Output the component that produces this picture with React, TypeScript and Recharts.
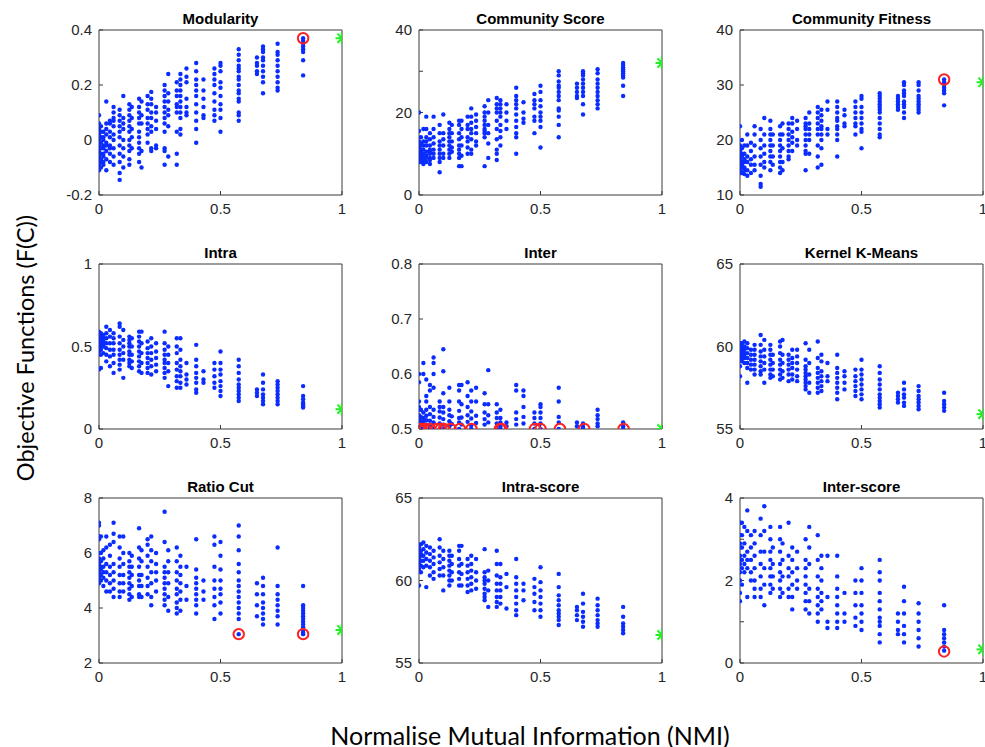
import React from 'react';
import { ScatterChart, Scatter, XAxis, YAxis } from 'recharts';

// NMI value of every column of partitions (shared by all panels)
const nmi = [0, 0.008, 0.018, 0.03, 0.045, 0.06, 0.085, 0.1, 0.125, 0.135, 0.165, 0.175, 0.2, 0.215, 0.235, 0.27, 0.285, 0.32, 0.335, 0.36, 0.4, 0.43, 0.475, 0.5, 0.575, 0.65, 0.675, 0.735, 0.84];

const modularity = [
  [0.09, 0.06, 0.04, 0.02, 0.01, 0, -0.01, -0.02, -0.03, -0.04, -0.05, -0.06, -0.07, -0.08, -0.09, -0.1, -0.11],
  [0.05, 0.03, 0.01, -0.01, -0.03, -0.05, -0.07, -0.08, -0.1],
  [0.03, 0.01, 0, -0.02, -0.03, -0.05, -0.06, -0.08, -0.09],
  [0.14, 0.06, 0.04, 0.02, -0.01, -0.02, -0.04, -0.07, -0.11],
  [0.07, 0.06, 0.03, 0.01, -0.02, -0.03, -0.05, -0.08],
  [0.12, 0.1, 0.08, 0.07, 0.05, 0.02, 0, -0.03, -0.06, -0.09],
  [0.11, 0.09, 0.07, 0.05, 0.03, 0.01, -0.02, -0.05, -0.08, -0.12, -0.145],
  [0.16, 0.08, 0.06, 0.04, 0, -0.03, -0.06, -0.1],
  [0.13, 0.11, 0.09, 0.07, 0.05, 0.03, 0, -0.02, -0.04, -0.07, -0.09],
  [0.12, 0.08, 0.04, 0.01, -0.03],
  [0.15, 0.12, 0.1, 0.08, 0.06, 0.03, 0.01, -0.01, -0.03, -0.05, -0.08],
  [0.14, 0.09, 0.06, -0.04, -0.1],
  [0.16, 0.13, 0.11, 0.08, 0.06, 0.04, 0.02, -0.01],
  [0.175, 0.15, 0.13, 0.1, 0.08, 0.05, 0.03, -0.03, -0.04],
  [0.12, 0.1, 0.07, 0.04, -0.02, -0.03],
  [0.2, 0.18, 0.16, 0.14, 0.12, 0.1, 0.08, 0.06, 0.03, -0.03, -0.04, -0.09],
  [0.24, 0.17, 0.14, 0.11, 0.09, 0.05, -0.06],
  [0.21, 0.18, 0.16, 0.13, 0.12, 0.1, 0.03, -0.05, -0.09],
  [0.24, 0.22, 0.2, 0.18, 0.16, 0.14, 0.12, 0.1, 0.08, 0.04, 0.02],
  [0.26, 0.23, 0.21, 0.15, 0.12, 0.1, 0.09],
  [0.28, 0.25, 0.22, 0.2, 0.18, 0.16, 0.13, 0.1, 0.07, 0.04, -0.01],
  [0.22, 0.18, 0.15, 0.12, 0.09, 0.08],
  [0.26, 0.24, 0.22, 0.2, 0.17, 0.14, 0.11, 0.09, 0.07],
  [0.28, 0.27, 0.25, 0.21, 0.19, 0.16, 0.13, 0.11, 0.08, 0.03],
  [0.33, 0.31, 0.29, 0.27, 0.26, 0.25, 0.23, 0.22, 0.2, 0.18, 0.17, 0.15, 0.14, 0.1, 0.09, 0.07],
  [0.3, 0.28, 0.27, 0.25, 0.24],
  [0.34, 0.33, 0.32, 0.3, 0.29, 0.27, 0.25, 0.23, 0.21, 0.17],
  [0.35, 0.32, 0.31, 0.29, 0.27, 0.25, 0.23, 0.21, 0.19, 0.18],
  [0.37, 0.36, 0.35, 0.34, 0.33, 0.32, 0.29, 0.235],
];

const communityScore = [
  [20, 15.5, 13, 12.5, 12, 11.5, 11, 10.5, 10, 9.5, 9, 8.5, 8],
  [14, 12.5, 12, 11, 10.5, 10, 9.5, 9, 8],
  [16, 13, 12, 11, 10, 9, 8.5, 7.5],
  [19, 16, 14, 13, 12, 10.5, 9.5, 9, 8],
  [15, 13.5, 12, 11, 10.5, 10, 9, 8.5, 7.5],
  [19, 16, 14, 12.5, 11, 10, 9],
  [17, 15, 13, 12, 11, 10, 9, 8, 5.5],
  [19.5, 15, 13.5, 12, 10, 9],
  [17.5, 16, 15, 14, 13, 12, 11, 10, 9],
  [17, 15, 13, 11.5, 10.5],
  [18, 17, 15, 13.5, 12, 11, 10, 9, 7],
  [18, 16, 14, 12, 9.5, 7],
  [19, 17, 16, 14, 13, 11.5, 10],
  [21, 19, 17.5, 16, 15, 13.5, 11, 10],
  [19.5, 18, 16.5, 15, 13, 12],
  [21.5, 20, 19, 18, 17, 16, 15.5, 15, 14, 7],
  [23, 20, 17, 15, 12.5, 9],
  [23.5, 22, 21, 20, 18, 16, 13.5, 11, 10, 8.5],
  [23, 22, 21, 20, 19, 17, 15.5, 14, 12],
  [22, 20, 18, 16],
  [26, 24, 23, 22, 21, 19.5, 18, 16.5, 15, 14, 10],
  [22.5, 20, 18.5, 17.5],
  [24.5, 23, 22, 21, 19, 18, 15],
  [26.5, 25, 23, 21.5, 20, 19, 18, 16.5, 11.5],
  [30, 29, 27.5, 26.5, 26, 25, 24, 23, 21, 20.5, 19, 17, 14],
  [27, 26, 25, 24, 23.5],
  [30, 29.5, 29, 28, 27, 26, 25, 24, 22, 19.5],
  [30.5, 29.5, 28, 27, 26, 25, 24, 23, 22, 21],
  [32, 31.5, 31, 30.5, 30, 29.5, 29, 28.5, 26.5, 24],
];

const communityFitness = [
  [22.5, 19, 18, 17, 16.5, 16, 15.5, 15, 14.5, 14],
  [20, 18.5, 17.5, 17, 16, 15.5, 15, 14],
  [19, 17.5, 16.5, 16, 15, 14.5, 13.8],
  [21, 19, 17, 16, 14.5, 13.5],
  [19.5, 18, 16.5, 15.5, 14],
  [22.5, 21, 19, 17, 15.5, 14.5],
  [22, 20, 18.5, 17, 15.5, 13.5, 12, 11.5],
  [24, 21, 19, 17.5, 16, 15],
  [23.5, 22, 21, 20, 19, 18, 17, 16, 14.5],
  [21, 19, 17, 15.5],
  [22.5, 21, 20, 19, 18, 17, 16, 15, 14],
  [23, 21, 18.5, 16, 14.5],
  [23, 22, 21, 20, 19, 18, 17, 16.5],
  [24, 23, 21.5, 20.5, 19.5, 18],
  [23.5, 22, 20, 19],
  [24, 23, 22.5, 22, 21, 20, 19, 18, 17.5, 14.5],
  [25, 23, 22, 21, 20, 17.5],
  [26, 25, 24, 23, 22, 21, 19, 17, 15],
  [25.5, 24.5, 23.5, 22.5, 22, 21, 20, 18.5, 15.5],
  [27, 25.5, 22, 21],
  [27, 26, 25, 24, 23.5, 22.5, 22, 21, 20, 17],
  [25.5, 24.5, 23, 22.5],
  [27, 26, 25, 24, 23, 22.5, 21],
  [28, 27.5, 26, 25, 24, 23, 22, 21.5, 18.5],
  [28.5, 28, 27.5, 27, 26.5, 26, 25.5, 25, 24, 23, 22, 21, 20.5],
  [28, 27.5, 27, 26.5, 26, 25.5],
  [30.5, 30, 29, 28.5, 28, 27, 26.5, 26, 25, 24],
  [30.5, 30, 29, 28, 27.5, 27, 26.5, 26, 25.5, 25],
  [31, 30.5, 30, 29.5, 29, 28.5, 26.3],
];

const intra = [
  [0.59, 0.57, 0.56, 0.55, 0.54, 0.53, 0.52, 0.51, 0.5, 0.49, 0.47, 0.36],
  [0.58, 0.57, 0.56, 0.55, 0.54, 0.52, 0.5, 0.48, 0.45, 0.37],
  [0.57, 0.55, 0.53, 0.51, 0.5, 0.46],
  [0.62, 0.58, 0.55, 0.52, 0.49, 0.45, 0.41],
  [0.6, 0.56, 0.52, 0.48, 0.44, 0.38],
  [0.58, 0.55, 0.52, 0.48, 0.45, 0.4, 0.34],
  [0.64, 0.62, 0.56, 0.52, 0.48, 0.45, 0.42, 0.39, 0.36],
  [0.6, 0.54, 0.5, 0.46, 0.42, 0.31],
  [0.56, 0.54, 0.52, 0.5, 0.47, 0.45, 0.42, 0.4, 0.38],
  [0.55, 0.5, 0.45, 0.41, 0.37],
  [0.59, 0.56, 0.53, 0.5, 0.47, 0.44, 0.41, 0.38, 0.35],
  [0.59, 0.52, 0.46, 0.4, 0.34],
  [0.53, 0.49, 0.46, 0.43, 0.4, 0.37, 0.34],
  [0.55, 0.5, 0.46, 0.42, 0.38, 0.33],
  [0.52, 0.47, 0.43, 0.39, 0.35],
  [0.59, 0.52, 0.48, 0.45, 0.42, 0.4, 0.37, 0.34, 0.31],
  [0.5, 0.45, 0.4, 0.35, 0.26],
  [0.55, 0.5, 0.46, 0.4, 0.36, 0.32, 0.29, 0.25],
  [0.55, 0.48, 0.42, 0.38, 0.35, 0.32, 0.28, 0.25],
  [0.4, 0.33, 0.3, 0.27],
  [0.51, 0.42, 0.38, 0.34, 0.31, 0.28, 0.24, 0.22],
  [0.35, 0.3, 0.28],
  [0.4, 0.36, 0.32, 0.28, 0.25],
  [0.47, 0.4, 0.36, 0.33, 0.29, 0.26, 0.23, 0.2],
  [0.42, 0.38, 0.34, 0.3, 0.27, 0.25, 0.23, 0.21, 0.19, 0.17],
  [0.24, 0.22, 0.2],
  [0.33, 0.28, 0.24, 0.21, 0.19, 0.17, 0.15],
  [0.29, 0.27, 0.25, 0.23, 0.21, 0.19, 0.17, 0.15],
  [0.26, 0.2, 0.18, 0.16, 0.15, 0.14, 0.13],
];

const inter = [
  [0.6, 0.585, 0.55, 0.54, 0.535, 0.525, 0.518, 0.512, 0.506, 0.5],
  [0.535, 0.522, 0.514, 0.507, 0.5],
  [0.62, 0.6, 0.53, 0.52, 0.513, 0.5],
  [0.59, 0.56, 0.55, 0.535, 0.524, 0.516, 0.508],
  [0.58, 0.57, 0.54, 0.527, 0.515, 0.505, 0.5],
  [0.63, 0.62, 0.6, 0.575, 0.535, 0.522, 0.512, 0.5],
  [0.55, 0.54, 0.532, 0.521, 0.51, 0.5],
  [0.645, 0.605, 0.565, 0.54, 0.53, 0.518, 0.508, 0.5],
  [0.575, 0.55, 0.535, 0.525, 0.514, 0.505],
  [0.523, 0.509],
  [0.58, 0.57, 0.55, 0.533, 0.52, 0.512, 0.5],
  [0.58, 0.545, 0.521, 0.508],
  [0.585, 0.56, 0.54, 0.525, 0.513],
  [0.57, 0.55, 0.532, 0.519, 0.506, 0.5],
  [0.575, 0.55, 0.524, 0.511],
  [0.565, 0.545, 0.53, 0.518, 0.508],
  [0.607, 0.545, 0.525, 0.512],
  [0.545, 0.53, 0.52, 0.51, 0.5],
  [0.535, 0.52, 0.512, 0.505, 0.5],
  [0.512, 0.505],
  [0.58, 0.57, 0.53, 0.518, 0.508],
  [0.57, 0.56, 0.54, 0.522, 0.51],
  [0.53, 0.52, 0.51, 0.5],
  [0.545, 0.54, 0.53, 0.52, 0.51, 0.5],
  [0.575, 0.55, 0.522, 0.512, 0.5],
  [0.512, 0.505],
  [0.51, 0.504, 0.5],
  [0.535, 0.525, 0.518, 0.51, 0.505],
  [0.512, 0.505, 0.5],
];

const kernelKMeans = [
  [60.2, 60.1, 60, 59.9, 59.8, 59.6, 59.5, 59.4, 59.3, 58.8, 58.2],
  [60.2, 60, 59.9, 59.7, 59.5, 59.3, 59.1],
  [60.3, 60, 59.8, 59.6, 59.5, 59.3, 59],
  [60.2, 59.9, 59.6, 59.3, 59, 58.7, 57.8],
  [59.8, 59.5, 59.2, 58.9, 58.6],
  [60.1, 59.8, 59.5, 59.2, 58.9, 58.6, 58.3],
  [60.7, 60.1, 59.7, 59.4, 59.1, 58.8, 58.5, 58.3],
  [60.4, 59.8, 59.4, 59, 58.6, 57.8],
  [60.1, 59.8, 59.5, 59.2, 58.9, 58.6, 58.3, 58.1],
  [59.5, 59, 58.6, 58.2],
  [60.3, 60, 59.6, 59.2, 58.9, 58.6, 58.3, 58],
  [60.4, 59.5, 59, 58.5, 58.1],
  [59.5, 59.2, 58.9, 58.6, 58.3, 57.9],
  [59.8, 59.3, 59, 58.7, 58.3, 58],
  [59.8, 59.4, 59, 58.6, 58.2, 57.9],
  [60.2, 59.2, 58.8, 58.6, 58.4, 58.2, 58, 57.8, 57.6, 57.4],
  [59.8, 59, 58.3, 57.8, 57.2],
  [60.3, 59.3, 58.7, 58.4, 58.1, 57.8, 57.5, 57.2],
  [59.5, 59.1, 58.5, 58.2, 57.9, 57.6, 57.3],
  [59, 58.2, 57.9],
  [59.5, 58.7, 58.4, 58.1, 57.8, 57.5, 57.2, 56.8],
  [58.5, 58.2, 57.8, 57.4],
  [58.6, 58.2, 57.9, 57.6, 57.3, 57],
  [59.2, 58.6, 58.3, 58, 57.7, 57.4, 57.1, 56.8],
  [58.8, 58.4, 58, 57.7, 57.4, 57.1, 56.9, 56.7, 56.5, 56.3],
  [57.2, 57, 56.8, 56.6],
  [57.8, 57.4, 57.1, 56.9, 56.6, 56.4],
  [57.6, 57.3, 57, 56.8, 56.6, 56.4, 56.2],
  [57.2, 56.7, 56.5, 56.3, 56.1],
];

const ratioCut = [
  [7.1, 7.0, 6.6, 6.5, 6, 5.8, 5.7, 5.6, 5.5, 5.4, 5.3, 5.2, 5.1, 4.9],
  [6.6, 6, 5.7, 5.5, 5.4, 5.2, 5],
  [6.1, 5.8, 5.5, 5.3, 5.1, 4.8],
  [6.6, 6.2, 5.6, 5.3, 5, 4.6],
  [6.3, 5.9, 5.5, 5.2, 4.9, 4.6],
  [7.1, 6.7, 6.4, 5.6, 5.3, 5, 4.7, 4.4],
  [6.6, 6.2, 5.8, 5.5, 5.2, 4.9, 4.6, 4.4],
  [6.6, 6, 5.6, 5.2, 4.9, 4.6],
  [6, 5.7, 5.5, 5.3, 5.1, 4.9, 4.7, 4.5, 4.3],
  [5.9, 5.5, 5.2, 4.8, 4.4],
  [6.9, 6.2, 5.8, 5.5, 5.2, 5, 4.8, 4.5, 4.4],
  [6.1, 5.7, 5.2, 4.8, 4.4],
  [6.5, 6.3, 5.9, 5.5, 5.1, 4.8, 4.5],
  [6.6, 6.1, 5.7, 5.3, 4.9, 4.4, 4.1],
  [6, 5.6, 5.3, 5, 4.6],
  [7.5, 6.4, 5.5, 5.3, 5.1, 4.9, 4.7, 4.5, 4.3, 4.1],
  [6.1, 5.7, 5.3, 4.9, 4.4, 3.9],
  [6.2, 5.7, 5.3, 5, 4.7, 4.5, 4.2, 4, 3.8],
  [5.9, 5.5, 5.2, 4.9, 4.6, 4.3, 3.9],
  [5.5, 4.8, 4.3],
  [6.5, 5.4, 5.1, 4.9, 4.7, 4.5, 4.3, 4.1, 3.8],
  [5, 4.6, 4.3],
  [6.6, 6.3, 5.5, 5, 4.7, 4.4, 4.1, 3.6],
  [6.4, 5.9, 5.4, 5, 4.7, 4.5, 4.2, 3.8],
  [7, 6.6, 6.1, 5.6, 5.3, 5, 4.8, 4.6, 4.4, 4.2, 4, 3.8, 3.6, 3.05],
  [4.9, 4.5, 4.1, 3.7],
  [5.1, 4.8, 4.5, 4.2, 4, 3.8, 3.6, 3.4],
  [6.2, 4.8, 4.5, 4.3, 4.1, 3.9, 3.7, 3.4],
  [4.8, 4.1, 4, 3.9, 3.8, 3.7, 3.6, 3.5, 3.4, 3.3, 3.2, 3.1, 3.05],
];

const intraScore = [
  [62, 61.8, 61.6, 61.4, 61.3, 61.2, 61, 60.7, 59.7],
  [62.2, 61.8, 61.6, 61.5, 61.2, 60.9, 60.5],
  [62.3, 61.9, 61.5, 61.2, 60.8],
  [62.1, 61.7, 61.3, 60.9, 59.6],
  [62, 61.6, 61.2, 60.8, 60.3],
  [61.8, 61.4, 61, 60.5, 60.1],
  [62.5, 62, 61.5, 61.1, 60.7, 60.3],
  [61.8, 61.3, 60.8, 60.3, 59.4],
  [61.8, 61.5, 61.2, 60.9, 60.6, 60.3, 60, 59.7],
  [61.5, 61, 60.5, 60],
  [62.1, 61.8, 61.3, 60.9, 60.5, 60.1, 59.7],
  [62.1, 61, 60.4, 59.7],
  [61.3, 60.9, 60.5, 60.1, 59.7, 59.3],
  [61.5, 61, 60.6, 60.2, 59.8, 59.4],
  [61.3, 60.5, 60, 59.5],
  [61.9, 60.5, 60.2, 60, 59.8, 59.5, 59.2, 59, 58.8],
  [60.6, 60, 59.4, 58.4],
  [61.8, 61, 60.3, 59.8, 59.4, 59, 58.7, 58.4],
  [61, 60.2, 59.8, 59.4, 59, 58.6],
  [60.4, 59.6, 58.3],
  [61.3, 60.2, 59.8, 59.4, 59, 58.6, 58.2, 57.9],
  [59.8, 59.4, 58.8],
  [60.1, 59.6, 59.2, 58.7, 58.2],
  [60.8, 59.9, 59.4, 59, 58.6, 58.2, 57.8],
  [60.4, 59.6, 59.1, 58.8, 58.5, 58.2, 58, 57.8, 57.6, 57.3],
  [58.4, 58.2, 57.9, 57.6],
  [59.2, 58.6, 58.1, 57.8, 57.5, 57.2],
  [58.9, 58.5, 58.2, 57.9, 57.6, 57.4, 57.2],
  [58.4, 57.8, 57.4, 57.2, 57, 56.8],
];

const interScore = [
  [3.4, 3.1, 2.9, 2.8, 2.6, 2.5, 2.4, 2.2, 2, 1.7, 1.5],
  [3.4, 3.1, 2.8, 2.5, 2.3, 1.9],
  [3.3, 2.9, 2.6, 2.4, 2.2],
  [3.7, 3.2, 2.7, 2.5, 2.3, 1.6],
  [3.1, 2.8, 2.5, 2.2, 2],
  [3.2, 2.9, 2.6, 2.3, 2, 1.8, 1.6],
  [3.5, 3.1, 2.7, 2.4, 2.1, 1.8, 1.6],
  [3.8, 3.2, 2.7, 2.3, 1.9, 1.4],
  [3.3, 3, 2.7, 2.5, 2.3, 2.1, 1.9, 1.7],
  [2.8, 2.4, 2.1, 1.8],
  [3.3, 3, 2.7, 2.4, 2.2, 2, 1.8, 1.6],
  [2.9, 2.5, 2.1, 1.7],
  [3.4, 2.6, 2.3, 2.1, 1.8, 1.6],
  [2.8, 2.5, 2.2, 1.9, 1.6, 1.3],
  [2.7, 2.3, 2, 1.8],
  [3, 2.5, 2.3, 2.1, 1.9, 1.7, 1.5, 1.3],
  [3.3, 2.8, 2.4, 1.8, 1.5, 1.2],
  [3.1, 2.5, 2.1, 1.8, 1.6, 1.4, 1.2, 1],
  [2.6, 2.3, 2, 1.7, 1.5, 1.3],
  [2.6, 1.6, 1, 0.85],
  [2.6, 2.1, 1.8, 1.6, 1.4, 1.2, 1, 0.85],
  [1.7, 1.2, 1],
  [2, 1.7, 1.4, 1.1, 0.9],
  [2.3, 2, 1.7, 1.4, 1.2, 1, 0.8],
  [2.5, 2.2, 2, 1.7, 1.5, 1.3, 1.1, 1, 0.9, 0.7, 0.5],
  [1.2, 1, 0.8, 0.7],
  [1.85, 1.5, 1.2, 0.9, 0.7, 0.5],
  [1.45, 1.2, 1, 0.8, 0.6, 0.4],
  [1.4, 0.8, 0.7, 0.6, 0.5, 0.4, 0.3],
];

// best-scoring partitions (red circles) and ground truth (green asterisk)
const modularityBest = [[0.84, 0.37]];
const communityScoreBest: number[][] = [];
const communityFitnessBest = [[0.84, 31]];
const intraBest: number[][] = [];
const interBest = [[0, 0.5], [0.011, 0.5], [0.025, 0.5], [0.045, 0.5], [0.073, 0.5], [0.089, 0.5], [0.103, 0.5], [0.13, 0.5], [0.168, 0.5], [0.216, 0.5], [0.333, 0.5], [0.34, 0.5], [0.477, 0.5], [0.5, 0.5], [0.58, 0.5], [0.68, 0.5], [0.842, 0.5]];
const kernelBest: number[][] = [];
const ratioCutBest = [[0.575, 3.05], [0.84, 3.05]];
const intraScoreBest: number[][] = [];
const interScoreBest = [[0.84, 0.28]];

const truthModularity = [1, 0.37];
const truthCommunityScore = [1, 32];
const truthCommunityFitness = [1, 30.5];
const truthIntra = [1, 0.12];
const truthInter = [1, 0.5];
const truthKernel = [1, 55.9];
const truthRatioCut = [1, 3.2];
const truthIntraScore = [1, 56.7];
const truthInterScore = [1, 0.33];

const xTicks = [0, 0.5, 1];

type Panel = {
  title: string;
  cols: number[][];
  domain: [number, number];
  ticks: number[];
  shown: number[];
  best: number[][];
  truth: number[];
};

const panels: Panel[] = [
  { title: 'Modularity', cols: modularity, domain: [-0.2, 0.4], ticks: [-0.2, 0, 0.2, 0.4], shown: [-0.2, 0, 0.2, 0.4], best: modularityBest, truth: truthModularity },
  { title: 'Community Score', cols: communityScore, domain: [0, 40], ticks: [0, 10, 20, 30, 40], shown: [0, 20, 40], best: communityScoreBest, truth: truthCommunityScore },
  { title: 'Community Fitness', cols: communityFitness, domain: [10, 40], ticks: [10, 20, 30, 40], shown: [10, 20, 30, 40], best: communityFitnessBest, truth: truthCommunityFitness },
  { title: 'Intra', cols: intra, domain: [0, 1], ticks: [0, 0.5, 1], shown: [0, 0.5, 1], best: intraBest, truth: truthIntra },
  { title: 'Inter', cols: inter, domain: [0.5, 0.8], ticks: [0.5, 0.6, 0.7, 0.8], shown: [0.5, 0.6, 0.7, 0.8], best: interBest, truth: truthInter },
  { title: 'Kernel K-Means', cols: kernelKMeans, domain: [55, 65], ticks: [55, 60, 65], shown: [55, 60, 65], best: kernelBest, truth: truthKernel },
  { title: 'Ratio Cut', cols: ratioCut, domain: [2, 8], ticks: [2, 4, 6, 8], shown: [2, 4, 6, 8], best: ratioCutBest, truth: truthRatioCut },
  { title: 'Intra-score', cols: intraScore, domain: [55, 65], ticks: [55, 60, 65], shown: [55, 60, 65], best: intraScoreBest, truth: truthIntraScore },
  { title: 'Inter-score', cols: interScore, domain: [0, 4], ticks: [0, 1, 2, 3, 4], shown: [0, 2, 4], best: interScoreBest, truth: truthInterScore },
];

const PLOT_LEFTS = [99, 419, 740];
const PLOT_TOPS = [30, 264, 498];
const AXIS_W = 45;
const TOP_M = 25;
const CW = 300;
const CH = 215;

const AXIS_COLOR = '#3a3a3a';
const TICK_STYLE = { fill: '#262626', fontSize: 15, fontFamily: '"Liberation Sans", Arial, sans-serif' };

const Dot = (p: any) => <circle cx={p.cx} cy={p.cy} r={2.2} fill="#0a2cff" />;
const Ring = (p: any) => <circle cx={p.cx} cy={p.cy} r={5.2} fill="none" stroke="#ff2020" strokeWidth={2} />;
const Star = (p: any) => {
  const s = 6.5;
  const d = 4.6;
  return (
    <g stroke="#22ee22" strokeWidth={2}>
      <line x1={p.cx - s} y1={p.cy} x2={p.cx + s} y2={p.cy} />
      <line x1={p.cx} y1={p.cy - s} x2={p.cx} y2={p.cy + s} />
      <line x1={p.cx - d} y1={p.cy - d} x2={p.cx + d} y2={p.cy + d} />
      <line x1={p.cx - d} y1={p.cy + d} x2={p.cx + d} y2={p.cy - d} />
    </g>
  );
};

function PanelChart({ panel, left, top }: { panel: Panel; left: number; top: number }) {
  const pts = panel.cols.flatMap((ys, i) => ys.map((y) => ({ x: nmi[i], y })));
  const best = panel.best.map(([x, y]) => ({ x, y }));
  const truth = [{ x: panel.truth[0], y: panel.truth[1] }];
  const fmt = (v: number) => (panel.shown.includes(v) ? String(v) : '');
  return (
    <div style={{ position: 'absolute', left, top, width: CW, height: CH }}>
      <div
        style={{
          position: 'absolute',
          left: AXIS_W,
          width: 243,
          top: 5,
          textAlign: 'center',
          fontFamily: '"Liberation Sans", Arial, sans-serif',
          fontWeight: 'bold',
          fontSize: 15,
          lineHeight: '17px',
          color: '#000',
          whiteSpace: 'nowrap',
        }}
      >
        {panel.title}
      </div>
      <ScatterChart width={CW} height={CH} margin={{ top: TOP_M - 1, right: 11, bottom: 0, left: 0 }}>
        <XAxis
          xAxisId="b"
          type="number"
          dataKey="x"
          domain={[0, 1]}
          ticks={xTicks}
          allowDataOverflow
          orientation="bottom"
          height={25}
          tickSize={-4}
          tickMargin={12}
          stroke={AXIS_COLOR}
          tick={TICK_STYLE}
          interval={0}
        />
        <XAxis
          xAxisId="t"
          type="number"
          domain={[0, 1]}
          ticks={xTicks}
          allowDataOverflow
          orientation="top"
          height={1}
          tick={false}
          tickSize={-4}
          stroke={AXIS_COLOR}
          interval={0}
        />
        <YAxis
          yAxisId="l"
          type="number"
          dataKey="y"
          domain={panel.domain}
          ticks={panel.ticks}
          allowDataOverflow
          width={AXIS_W}
          tickSize={-4}
          tickMargin={11}
          tickFormatter={fmt}
          stroke={AXIS_COLOR}
          tick={TICK_STYLE}
          interval={0}
        />
        <YAxis
          yAxisId="r"
          type="number"
          orientation="right"
          domain={panel.domain}
          ticks={panel.ticks}
          allowDataOverflow
          width={1}
          tick={false}
          tickSize={-4}
          stroke={AXIS_COLOR}
          interval={0}
        />
        <Scatter xAxisId="b" yAxisId="l" data={pts} dataKey="y" shape={Dot} isAnimationActive={false} />
        <Scatter xAxisId="b" yAxisId="l" data={best} dataKey="y" shape={Ring} isAnimationActive={false} />
        <Scatter xAxisId="b" yAxisId="l" data={truth} dataKey="y" shape={Star} isAnimationActive={false} />
      </ScatterChart>
    </div>
  );
}

export default function App() {
  return (
    <div
      style={{
        position: 'absolute',
        left: 0,
        top: 0,
        width: 985,
        height: 747,
        overflow: 'hidden',
        background: '#fff',
      }}
    >
      {panels.map((p, i) => (
        <PanelChart
          key={p.title}
          panel={p}
          left={PLOT_LEFTS[i % 3] - AXIS_W}
          top={PLOT_TOPS[Math.floor(i / 3)] - TOP_M}
        />
      ))}
      <div
        style={{
          position: 'absolute',
          left: 25,
          top: 348,
          transform: 'translate(-50%, -50%) rotate(-90deg)',
          whiteSpace: 'nowrap',
          fontFamily: 'Lato, "Open Sans", sans-serif',
          fontSize: 23.5,
          color: '#000',
        }}
      >
        Objective Functions (F(C))
      </div>
      <div
        style={{
          position: 'absolute',
          left: 530,
          top: 735,
          transform: 'translate(-50%, -50%)',
          whiteSpace: 'nowrap',
          fontFamily: 'Lato, "Open Sans", sans-serif',
          fontSize: 25,
          color: '#000',
        }}
      >
        Normalise Mutual Information (NMI)
      </div>
    </div>
  );
}
